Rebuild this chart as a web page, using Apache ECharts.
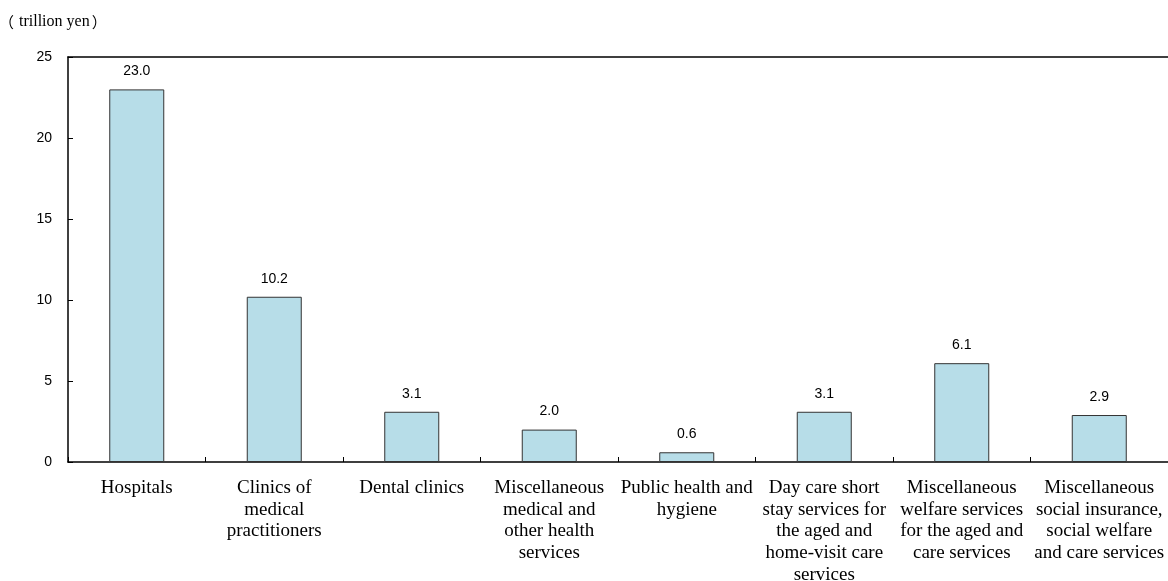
<!DOCTYPE html>
<html>
<head>
<meta charset="utf-8">
<script src="https://cdn.jsdelivr.net/npm/echarts@6/dist/echarts.min.js"></script>
<style>
html,body{margin:0;padding:0;background:#fff;}
#chart{width:1168px;height:581px;}
</style>
</head>
<body>
<div id="chart"></div>
<script>
const categories = [
  "Hospitals",
  "Clinics of\nmedical\npractitioners",
  "Dental clinics",
  "Miscellaneous\nmedical and\nother health\nservices",
  "Public health and\nhygiene",
  "Day care short\nstay services for\nthe aged and\nhome-visit care\nservices",
  "Miscellaneous\nwelfare services\nfor the aged and\ncare services",
  "Miscellaneous\nsocial insurance,\nsocial welfare\nand care services"
];
const values = [23.0, 10.2, 3.1, 2.0, 0.6, 3.1, 6.1, 2.9];
const yTicks = [0, 5, 10, 15, 20, 25];
const unitText = "trillion yen";

const serif = 'Liberation Serif, Times New Roman, serif';
const sans = 'Liberation Sans, Arial, sans-serif';
const cjk = '"Noto Sans CJK JP", sans-serif';

const chart = echarts.init(document.getElementById('chart'), null, {renderer: 'canvas'});
chart.setOption({
  animation: false,
  backgroundColor: '#fff',
  title: {
    text: '{p|（}{t|' + unitText + '}{q|）}',
    left: -5, top: 14, padding: 0,
    textStyle: {
      fontFamily: serif, fontSize: 16, fontWeight: 'normal', color: '#000',
      rich: {
        p: {fontFamily: cjk, fontSize: 15, color: '#000', padding: [0, 5, 0, 4]},
        q: {fontFamily: cjk, fontSize: 15, color: '#000', padding: [0, 0, 0, 2]},
        t: {fontFamily: serif, fontSize: 16, color: '#000'}
      }
    }
  },
  grid: {left: 68, right: 0, top: 57, bottom: 119, containLabel: false, outerBoundsMode: 'none'},
  xAxis: [{
    type: 'category',
    data: categories,
    axisLine: {show: true, lineStyle: {color: '#000', width: 1.5}},
    axisTick: {show: true, inside: true, length: 5, alignWithLabel: false, lineStyle: {color: '#000'}},
    axisLabel: {
      interval: 0, margin: 15, color: '#000',
      fontFamily: serif, fontSize: 19, lineHeight: 21.7
    }
  }, {
    type: 'category',
    position: 'top',
    data: categories,
    axisLine: {show: true, lineStyle: {color: '#000', width: 1.5}},
    axisTick: {show: false},
    axisLabel: {show: false}
  }],
  yAxis: {
    type: 'value',
    min: yTicks[0], max: yTicks[yTicks.length - 1], interval: 5,
    axisLine: {show: true, lineStyle: {color: '#000', width: 1.5}},
    axisTick: {show: true, inside: true, length: 5, lineStyle: {color: '#000'}},
    splitLine: {show: false},
    axisLabel: {margin: 16, color: '#000', fontFamily: sans, fontSize: 14}
  },
  series: [{
    type: 'bar',
    data: values,
    barWidth: '40%',
    itemStyle: {color: '#B7DDE8', borderColor: '#333', borderWidth: 1},
    label: {
      show: true, position: 'top', distance: 11, color: '#000',
      fontFamily: sans, fontSize: 14,
      formatter: p => p.value.toFixed(1)
    }
  }]
});
</script>
</body>
</html>
